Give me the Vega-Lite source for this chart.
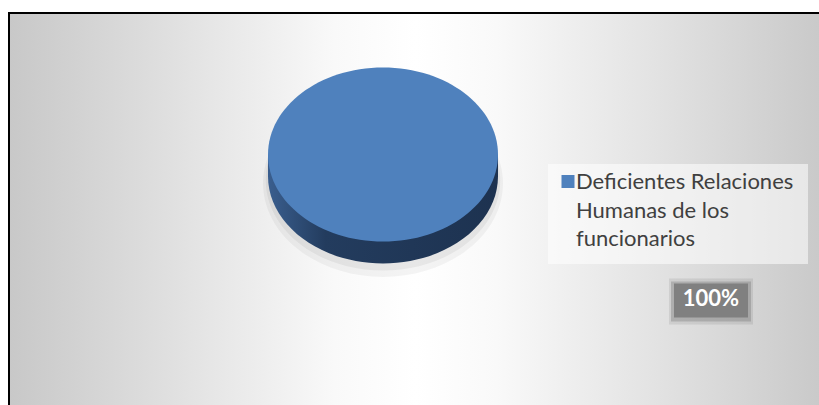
{
  "$schema": "https://vega.github.io/schema/vega-lite/v6.json",
  "width": 813,
  "height": 395,
  "autosize": "none",
  "padding": {"left": 9, "top": 13, "right": 0, "bottom": 0},
  "background": "white",
  "config": {
    "font": "Lato",
    "style": {"guide-label": {"lineHeight": 28.5}},
    "view": {
      "fill": {"gradient": "linear", "x1": 0, "y1": 0, "x2": 1, "y2": 0,
        "stops": [
          {"offset": 0, "color": "#c8c8c8"},
          {"offset": 0.2, "color": "#e0e0e0"},
          {"offset": 0.4, "color": "#f9f9f9"},
          {"offset": 0.5, "color": "#ffffff"},
          {"offset": 0.6, "color": "#f9f9f9"},
          {"offset": 0.8, "color": "#e2e2e2"},
          {"offset": 1, "color": "#c9c9c9"}
        ]},
      "stroke": "black",
      "strokeWidth": 2
    }
  },
  "data": {"values": [
    {"categoria": "Deficientes Relaciones Humanas de los funcionarios", "valor": 100}
  ]},
  "transform": [
    {"joinaggregate": [{"op": "sum", "field": "valor", "as": "total"}]},
    {"calculate": "datum.valor / datum.total", "as": "pct"}
  ],
  "encoding": {
    "x": {"field": "categoria", "type": "nominal", "axis": null, "scale": {"range": [0, 748]}},
    "y": {"field": "categoria", "type": "nominal", "axis": null, "scale": {"range": [0, 283]}}
  },
  "layer": [
    {
      "mark": {"type": "point", "filled": true, "opacity": 0.045, "fill": "#000000", "strokeWidth": 0,
        "shape": "M-1,0.24A1,0.78,0,1,1,1,0.24A1,0.78,0,1,1,-1,0.24Z", "size": 57600}
    },
    {
      "mark": {"type": "point", "filled": true, "opacity": 0.05, "fill": "#000000", "strokeWidth": 0,
        "shape": "M-1,0.22A1,0.77,0,1,1,1,0.22A1,0.77,0,1,1,-1,0.22Z", "size": 55000}
    },
    {
      "mark": {"type": "point", "filled": true, "opacity": 1, "strokeWidth": 0,
        "shape": "M-1,0L-1,0.19A1,0.757,0,0,0,1,0.19L1,0Z", "size": 52900,
        "fill": {"gradient": "linear", "x1": 0, "y1": 0, "x2": 1, "y2": 0,
          "stops": [
            {"offset": 0, "color": "#3a5e8e"},
            {"offset": 0.25, "color": "#233c5e"},
            {"offset": 1, "color": "#1d3250"}
          ]}}
    },
    {
      "mark": {"type": "point", "filled": true, "opacity": 1, "strokeWidth": 0,
        "shape": "M-1,0A1,0.757,0,1,1,1,0A1,0.757,0,1,1,-1,0Z", "size": 52900},
      "encoding": {
        "color": {
          "field": "categoria", "type": "nominal",
          "scale": {"range": ["#4f81bd"]},
          "legend": {
            "title": null,
            "orient": "none",
            "legendX": 539,
            "legendY": 151,
            "padding": 14,
            "fillColor": "rgba(255,255,255,0.55)",
            "symbolType": "M-1,-2.15L1,-2.15L1,-0.15L-1,-0.15Z",
            "symbolSize": 169,
            "symbolOffset": -5,
            "symbolOpacity": 1,
            "symbolStrokeWidth": 0,
            "labelBaseline": "alphabetic",
            "labelFont": "Lato",
            "labelFontSize": 22,
            "labelColor": "#404040",
            "labelLimit": 400,
            "labelOffset": -3,
            "labelExpr": "datum.label == 'Deficientes Relaciones Humanas de los funcionarios' ? ['Deficientes Relaciones', 'Humanas de los', 'funcionarios'] : datum.label"
          }
        }
      }
    },
    {
      "mark": {"type": "point", "filled": true, "opacity": 0.1, "fill": "#303030", "strokeWidth": 0,
        "shape": "M-1,-0.55L1,-0.55L1,0.55L-1,0.55Z", "size": 7056, "xOffset": 328, "yOffset": 147}
    },
    {
      "mark": {"type": "point", "filled": true, "opacity": 0.2, "fill": "#303030", "strokeWidth": 0,
        "shape": "M-1,-0.5L1,-0.5L1,0.5L-1,0.5Z", "size": 6400, "xOffset": 328, "yOffset": 147}
    },
    {
      "mark": {"type": "point", "filled": true, "opacity": 1, "fill": "#808080", "strokeWidth": 0,
        "shape": "M-1,-0.46L1,-0.46L1,0.46L-1,0.46Z", "size": 5476, "xOffset": 328, "yOffset": 146}
    },
    {
      "mark": {"type": "text", "font": "Lato", "fontSize": 22, "fontWeight": "bold", "color": "white",
        "align": "center", "baseline": "middle", "dx": 328, "dy": 144},
      "encoding": {
        "text": {"field": "pct", "type": "quantitative", "format": ".0%"}
      }
    }
  ]
}
